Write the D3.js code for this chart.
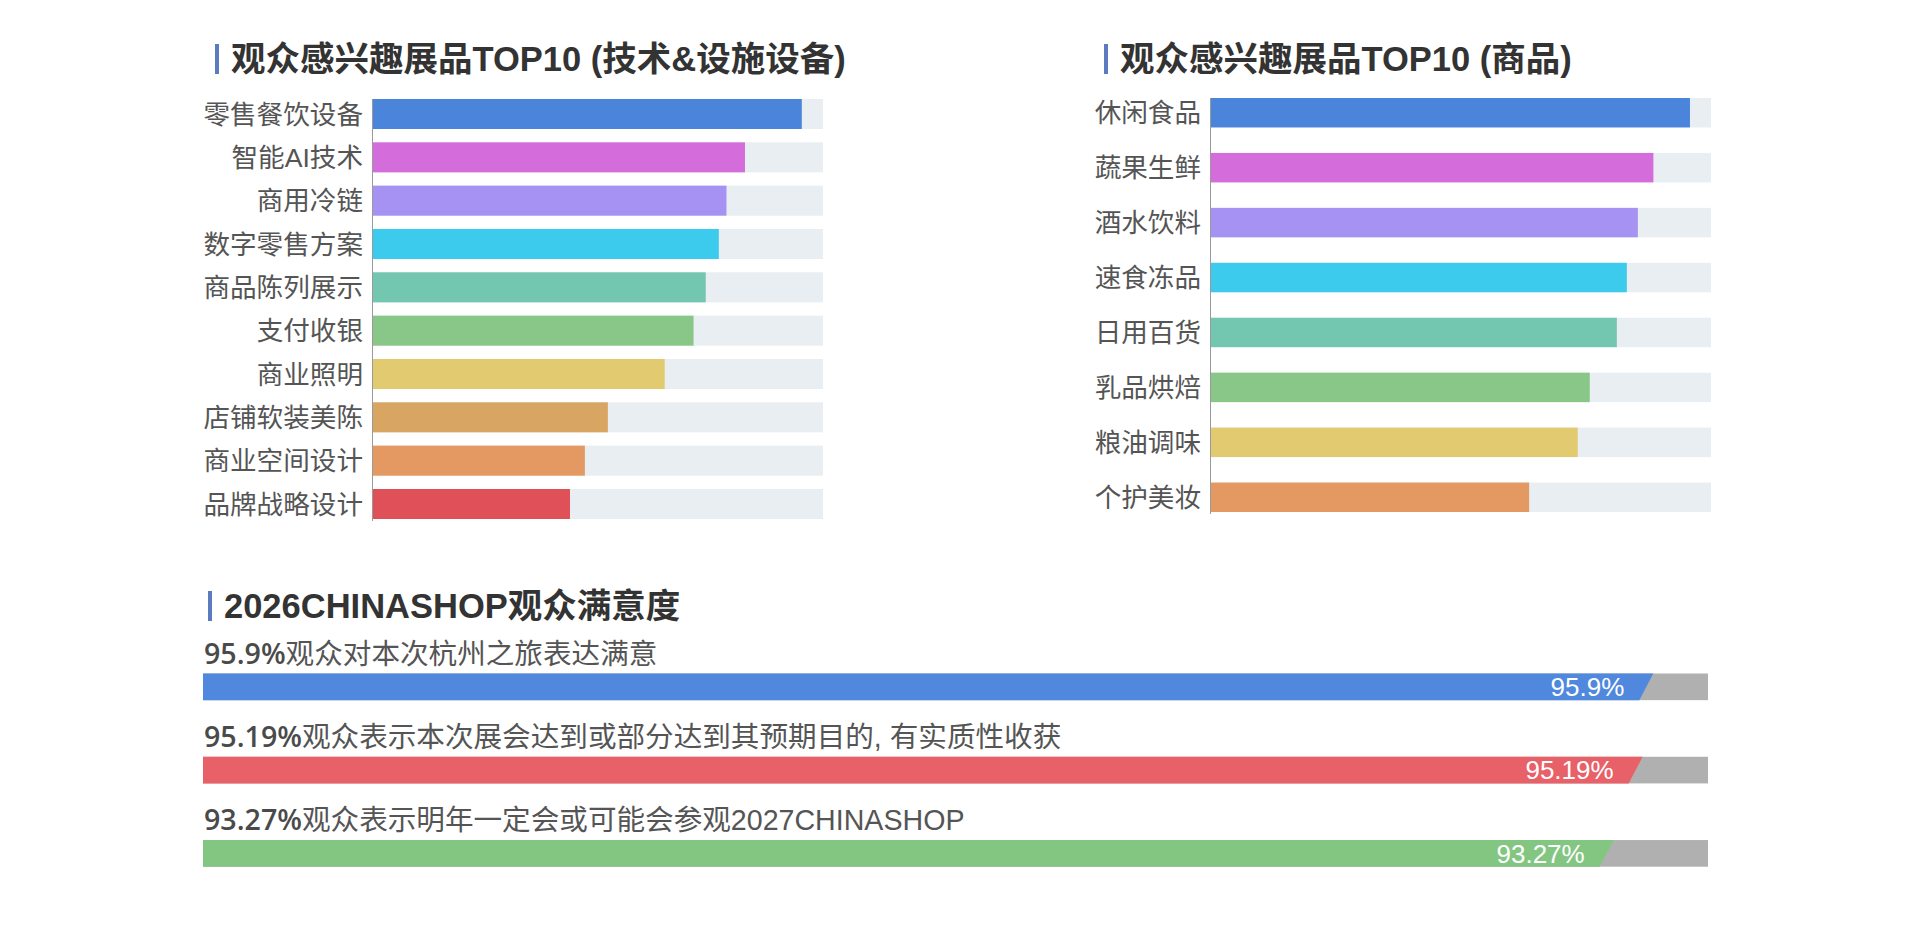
<!DOCTYPE html>
<html>
<head>
<meta charset="utf-8">
<script src="https://cdn.jsdelivr.net/npm/d3@7/dist/d3.min.js"></script>
<style>
  html, body { margin: 0; padding: 0; background: #fff; }
  svg { display: block; }
  text { font-family: "Liberation Sans", "Noto Sans CJK SC", sans-serif; }
</style>
</head>
<body>
<svg id="chart" width="1920" height="930"></svg>
<script>
// ---- data ----
const techTitle = "观众感兴趣展品TOP10 (技术&设施设备)";
const techCategories = ["零售餐饮设备", "智能AI技术", "商用冷链", "数字零售方案", "商品陈列展示", "支付收银", "商业照明", "店铺软装美陈", "商业空间设计", "品牌战略设计"];
const techValues = [95.3, 82.7, 78.6, 76.9, 74.0, 71.3, 64.9, 52.3, 47.2, 43.9];
const techColors = ["#4A84DB", "#D46DDB", "#A692F2", "#3CCBEC", "#73C6AF", "#88C787", "#E2CA70", "#D9A563", "#E49862", "#E05058"];

const goodsTitle = "观众感兴趣展品TOP10 (商品)";
const goodsCategories = ["休闲食品", "蔬果生鲜", "酒水饮料", "速食冻品", "日用百货", "乳品烘焙", "粮油调味", "个护美妆"];
const goodsValues = [95.8, 88.5, 85.4, 83.2, 81.2, 75.8, 73.4, 63.7];
const goodsColors = ["#4A84DB", "#D46DDB", "#A692F2", "#3CCBEC", "#73C6AF", "#88C787", "#E2CA70", "#E49862"];

const satTitle = "2026CHINASHOP观众满意度";
const satValues = [95.9, 95.19, 93.27];
const satValueLabels = ["95.9%", "95.19%", "93.27%"];
const satTexts = ["观众对本次杭州之旅表达满意", "观众表示本次展会达到或部分达到其预期目的, 有实质性收获", "观众表示明年一定会或可能会参观2027CHINASHOP"];
const satColors = ["#4F88DC", "#E86068", "#83C682"];

const svg = d3.select("#chart");
svg.append("rect").attr("width", 1920).attr("height", 930).attr("fill", "#fff");

function title(x, y, text) {
  svg.append("rect").attr("x", x).attr("y", y - 27).attr("width", 4).attr("height", 30).attr("fill", "#5B7BC0");
  svg.append("text").attr("x", x + 16).attr("y", y)
    .attr("font-size", 34.5).attr("font-weight", "bold").attr("fill", "#333")
    .text(text);
}

function hbar(cfg) {
  const { cats, vals, colors, x0, x1, y0, y1, padInner } = cfg;
  const x = d3.scaleLinear().domain([0, 100]).range([x0, x1]);
  const y = d3.scaleBand().domain(cats).range([y0, y1]).paddingInner(padInner).paddingOuter(0);
  const g = svg.append("g");
  g.selectAll("rect.bg").data(cats).join("rect").attr("class", "bg")
    .attr("x", x(0)).attr("y", d => y(d)).attr("width", x(100) - x(0)).attr("height", y.bandwidth())
    .attr("fill", "#E8EEF2");
  g.selectAll("rect.bar").data(vals).join("rect").attr("class", "bar")
    .attr("x", x(0)).attr("y", (d, i) => y(cats[i])).attr("width", d => x(d) - x(0)).attr("height", y.bandwidth())
    .attr("fill", (d, i) => colors[i]);
  const axis = d3.axisLeft(y).tickSize(0).tickPadding(9);
  const ag = g.append("g").attr("transform", `translate(${x(0)},0)`).call(axis);
  ag.select(".domain").attr("stroke", "#9a9a9a").attr("stroke-width", 1)
    .attr("d", `M0.5,${y0}V${y1 + 2}`);
  ag.selectAll(".tick text").attr("font-size", 26.6).attr("fill", "#555")
    .attr("font-family", "\"Liberation Sans\", \"Noto Sans CJK SC\", sans-serif")
    .attr("dy", "0.36em");
}

title(215, 71, techTitle);
hbar({ cats: techCategories, vals: techValues, colors: techColors, x0: 372, x1: 823, y0: 99, y1: 519, padInner: 0.3077 });

title(1104, 71, goodsTitle);
hbar({ cats: goodsCategories, vals: goodsValues, colors: goodsColors, x0: 1210, x1: 1711, y0: 98, y1: 512, padInner: 0.464 });

// ---- satisfaction ----
title(208, 618, satTitle);
const sx = d3.scaleLinear().domain([0, 100]).range([203, 1708]);
const sy = d3.scaleBand().domain(d3.range(satValues.length)).range([673.5, 866.7]).paddingInner(0.68).paddingOuter(0);
const bh = sy.bandwidth();
const slant = 7;
const sg = svg.append("g");
satValues.forEach((v, i) => {
  const top = sy(i);
  sg.append("rect").attr("x", sx(0)).attr("y", top).attr("width", sx(100) - sx(0)).attr("height", bh).attr("fill", "#B0B0B0");
  sg.append("path")
    .attr("d", `M${sx(0)},${top}L${sx(v) + slant},${top}L${sx(v) - slant},${top + bh}L${sx(0)},${top + bh}Z`)
    .attr("fill", satColors[i]);
  sg.append("text").attr("x", sx(v) - 22).attr("y", top + bh / 2).attr("dy", "0.36em")
    .attr("text-anchor", "end").attr("font-size", 26).attr("fill", "#fff")
    .text(satValueLabels[i]);
  const t = sg.append("text").attr("x", 204).attr("y", top - 10).attr("font-size", 28.6).attr("fill", "#555");
  t.append("tspan").attr("font-family", "\"Open Sans\", \"Liberation Sans\", sans-serif")
    .attr("font-weight", 600).attr("fill", "#4a4a4a").text(satValueLabels[i]);
  t.append("tspan").text(satTexts[i]);
});
</script>
</body>
</html>
